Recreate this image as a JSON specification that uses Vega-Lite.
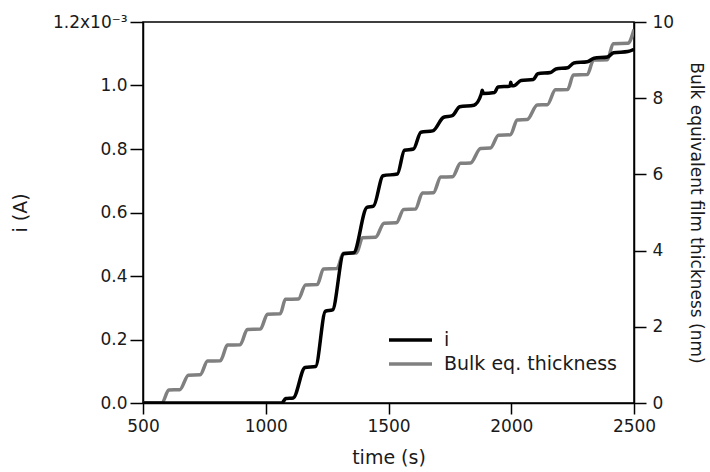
{
  "$schema": "https://vega.github.io/schema/vega-lite/v6.json",
  "width": 491,
  "height": 381,
  "autosize": "none",
  "padding": {"left": 143, "top": 22, "right": 76, "bottom": 69},
  "background": "white",
  "config": {
    "font": "DejaVu Sans",
    "view": {"stroke": "black", "strokeWidth": 1.5},
    "axis": {
      "grid": false,
      "domainColor": "black",
      "domainWidth": 1.5,
      "tickColor": "black",
      "tickWidth": 1.5,
      "labelColor": "#1a1a1a",
      "titleColor": "#1a1a1a",
      "labelFontSize": 17,
      "titleFontSize": 19,
      "titleFontWeight": "normal",
      "labelFont": "DejaVu Sans",
      "titleFont": "DejaVu Sans"
    }
  },
  "datasets": {
    "cur": [
      {"t": 500, "i": 0},
      {"t": 1065, "i": 0},
      {"t": 1082, "i": 0.000014},
      {"t": 1112, "i": 0.000016},
      {"t": 1160, "i": 0.000112},
      {"t": 1203, "i": 0.000115},
      {"t": 1243, "i": 0.000289},
      {"t": 1272, "i": 0.000293},
      {"t": 1317, "i": 0.00047},
      {"t": 1358, "i": 0.000473},
      {"t": 1412, "i": 0.000616},
      {"t": 1439, "i": 0.00062},
      {"t": 1478, "i": 0.000716},
      {"t": 1536, "i": 0.000721},
      {"t": 1565, "i": 0.000796},
      {"t": 1602, "i": 0.0008},
      {"t": 1632, "i": 0.000853},
      {"t": 1680, "i": 0.000857},
      {"t": 1725, "i": 0.0009},
      {"t": 1760, "i": 0.000905},
      {"t": 1790, "i": 0.000933},
      {"t": 1848, "i": 0.000938},
      {"t": 1878, "i": 0.000973},
      {"t": 1882, "i": 0.000985},
      {"t": 1886, "i": 0.000975},
      {"t": 1932, "i": 0.000978},
      {"t": 1946, "i": 0.000995},
      {"t": 1995, "i": 0.000998},
      {"t": 1998, "i": 0.00101},
      {"t": 2002, "i": 0.000999},
      {"t": 2010, "i": 0.000999},
      {"t": 2040, "i": 0.001016},
      {"t": 2090, "i": 0.001019},
      {"t": 2108, "i": 0.001037},
      {"t": 2160, "i": 0.001041},
      {"t": 2182, "i": 0.001052},
      {"t": 2230, "i": 0.001056},
      {"t": 2255, "i": 0.001071},
      {"t": 2310, "i": 0.001075},
      {"t": 2337, "i": 0.001086},
      {"t": 2392, "i": 0.00109},
      {"t": 2417, "i": 0.001103},
      {"t": 2475, "i": 0.001107},
      {"t": 2500, "i": 0.001114}
    ],
    "thk": [
      {"t": 500, "d": 0},
      {"t": 577, "d": 0},
      {"t": 605, "d": 0.34},
      {"t": 650, "d": 0.35},
      {"t": 685, "d": 0.73},
      {"t": 733, "d": 0.74},
      {"t": 763, "d": 1.1},
      {"t": 815, "d": 1.11},
      {"t": 844, "d": 1.52},
      {"t": 896, "d": 1.53},
      {"t": 925, "d": 1.93},
      {"t": 978, "d": 1.94},
      {"t": 1007, "d": 2.33},
      {"t": 1059, "d": 2.34},
      {"t": 1080, "d": 2.72},
      {"t": 1133, "d": 2.73},
      {"t": 1162, "d": 3.1},
      {"t": 1210, "d": 3.11},
      {"t": 1235, "d": 3.52},
      {"t": 1290, "d": 3.53},
      {"t": 1316, "d": 3.93},
      {"t": 1370, "d": 3.94},
      {"t": 1394, "d": 4.34},
      {"t": 1447, "d": 4.35},
      {"t": 1482, "d": 4.72},
      {"t": 1532, "d": 4.73},
      {"t": 1562, "d": 5.08},
      {"t": 1610, "d": 5.09},
      {"t": 1638, "d": 5.51},
      {"t": 1683, "d": 5.52},
      {"t": 1713, "d": 5.93},
      {"t": 1761, "d": 5.94},
      {"t": 1793, "d": 6.29},
      {"t": 1834, "d": 6.3},
      {"t": 1875, "d": 6.68},
      {"t": 1915, "d": 6.69},
      {"t": 1948, "d": 7.03},
      {"t": 1997, "d": 7.04},
      {"t": 2024, "d": 7.43},
      {"t": 2065, "d": 7.44},
      {"t": 2106, "d": 7.82},
      {"t": 2147, "d": 7.83},
      {"t": 2180, "d": 8.22},
      {"t": 2230, "d": 8.23},
      {"t": 2253, "d": 8.61},
      {"t": 2310, "d": 8.62},
      {"t": 2335, "d": 9.0},
      {"t": 2392, "d": 9.01},
      {"t": 2415, "d": 9.43},
      {"t": 2475, "d": 9.44},
      {"t": 2500, "d": 9.8}
    ]
  },
  "encoding": {
    "x": {
      "field": "t",
      "type": "quantitative",
      "scale": {"domain": [500, 2500], "nice": false, "zero": false},
      "axis": {
        "title": "time (s)",
        "values": [500, 1000, 1500, 2000, 2500],
        "format": "d",
        "tickSize": 11,
        "labelPadding": 4,
        "titlePadding": 14,
        "labelFlush": false
      }
    }
  },
  "layer": [
    {
      "data": {"name": "thk"},
      "mark": {"type": "line", "interpolate": "monotone", "strokeWidth": 3.5, "clip": true},
      "encoding": {
        "y": {
          "field": "d",
          "type": "quantitative",
          "scale": {"domain": [0, 10], "nice": false},
          "axis": {
            "orient": "right",
            "title": "Bulk equivalent film thickness (nm)",
            "titleFontSize": 17,
            "values": [0, 2, 4, 6, 8, 10],
            "tickSize": 12,
            "labelPadding": 6,
            "titlePadding": 13,
            "labelFlush": false
          }
        },
        "color": {
          "datum": "Bulk eq. thickness",
          "type": "nominal",
          "scale": {"domain": ["i", "Bulk eq. thickness"], "range": ["black", "#808080"]},
          "legend": {
            "title": null,
            "orient": "none",
            "legendX": 244,
            "legendY": 306,
            "symbolType": "stroke",
            "symbolSize": 1849,
            "symbolStrokeWidth": 3.5,
            "labelFontSize": 19,
            "labelColor": "#1a1a1a",
            "labelOffset": 10,
            "labelLimit": 0,
            "clipHeight": 24,
            "rowPadding": 0,
            "labelFont": "DejaVu Sans"
          }
        }
      }
    },
    {
      "data": {"name": "cur"},
      "mark": {"type": "line", "interpolate": "monotone", "strokeWidth": 3.5, "clip": true},
      "encoding": {
        "y": {
          "field": "i",
          "type": "quantitative",
          "scale": {"domain": [0, 0.0012], "nice": false},
          "axis": {
            "orient": "left",
            "title": "i (A)",
            "values": [0, 0.0002, 0.0004, 0.0006, 0.0008, 0.001, 0.0012],
            "labelExpr": "datum.value > 0.00119 ? '1.2x10⁻³' : format(datum.value * 1000, '.1f')",
            "tickSize": 13,
            "labelPadding": 3,
            "titlePadding": 22,
            "labelFlush": false
          }
        },
        "color": {"datum": "i", "type": "nominal"}
      }
    }
  ],
  "resolve": {"scale": {"y": "independent"}}
}
